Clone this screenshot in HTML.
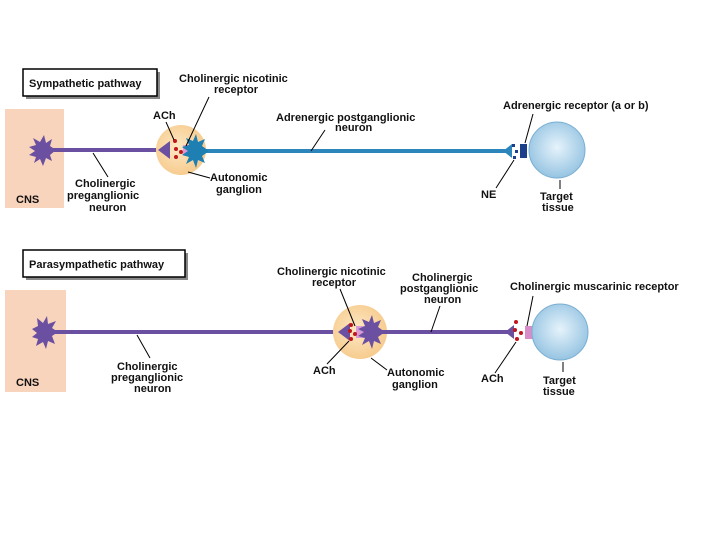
<!DOCTYPE html>
<html><head><style>
body{margin:0;background:#fff;}
svg text{font-family:"Liberation Sans",sans-serif;font-weight:bold;font-size:11px;fill:#111;}
</style></head><body>
<svg width="720" height="540" viewBox="0 0 720 540" xmlns="http://www.w3.org/2000/svg">
<defs>
<radialGradient id="gg" cx="0.45" cy="0.45" r="0.6"><stop offset="0" stop-color="#fde8c4"/><stop offset="1" stop-color="#f6c98a"/></radialGradient>
<radialGradient id="tg" cx="0.5" cy="0.45" r="0.6"><stop offset="0" stop-color="#e6f3fb"/><stop offset="1" stop-color="#8fc0e0"/></radialGradient>
</defs>
<!-- Sympathetic -->
<rect x="26" y="72" width="134" height="27" fill="#888"/>
<rect x="23" y="69" width="134" height="27" fill="#fff" stroke="#000" stroke-width="1.5"/>
<text x="29" y="87">Sympathetic pathway</text>
<rect x="5" y="109" width="59" height="99" fill="#f9d4bd"/>
<text x="16" y="203">CNS</text>
<line x1="45" y1="150" x2="162" y2="150" stroke="#6b4fa0" stroke-width="4"/>
<polygon points="56,150 50,146 52,139 46,143 44,135 40,142 33,138 36,145 29,147 35,151 29,155 36,157 34,163 40,159 43,166 46,158 52,161 50,155" fill="#6b4fa0"/>
<circle cx="181" cy="150" r="25" fill="url(#gg)"/>
<polygon points="158,150 170,141 170,159" fill="#6b4fa0"/>
<path d="M183,145 h6 v10 h-6 z" fill="#d99ad6"/>
<line x1="200" y1="151" x2="506" y2="151" stroke="#2c86bb" stroke-width="4"/>
<polygon points="209,151 202,146 205,139 198,142 196,134 193,141 186,138 189,145 182,147 188,151 182,155 189,157 186,164 193,160 196,168 198,160 205,163 202,156" fill="#1e7fb3"/>
<circle cx="175" cy="141" r="2" fill="#c0151b"/><circle cx="176" cy="149" r="2" fill="#c0151b"/><circle cx="181" cy="152" r="2" fill="#c0151b"/><circle cx="176" cy="157" r="2" fill="#c0151b"/>
<polygon points="503,151 512,144 512,158" fill="#2c86bb"/>
<rect x="512" y="144" width="3" height="3" fill="#1b3f8a"/><rect x="515" y="150" width="3" height="3" fill="#1b3f8a"/><rect x="513" y="156" width="3" height="3" fill="#1b3f8a"/>
<rect x="520" y="144" width="7" height="14" fill="#1b3f8a"/>
<circle cx="557" cy="150" r="28" fill="url(#tg)" stroke="#7aaed2"/>
<text x="179" y="82">Cholinergic nicotinic</text>
<text x="214" y="93">receptor</text>
<line x1="209" y1="97" x2="186" y2="146" stroke="#000"/>
<text x="153" y="119">ACh</text>
<line x1="166" y1="122" x2="174" y2="140" stroke="#000"/>
<text x="276" y="121">Adrenergic postganglionic</text>
<text x="335" y="131">neuron</text>
<line x1="325" y1="130" x2="311" y2="151" stroke="#000"/>
<text x="210" y="181">Autonomic</text>
<text x="216" y="193">ganglion</text>
<line x1="188" y1="172" x2="210" y2="178" stroke="#000"/>
<text x="75" y="187">Cholinergic</text>
<text x="67" y="199">preganglionic</text>
<text x="89" y="211">neuron</text>
<line x1="93" y1="153" x2="108" y2="177" stroke="#000"/>
<text x="503" y="109">Adrenergic receptor (a or b)</text>
<line x1="533" y1="114" x2="525" y2="143" stroke="#000"/>
<text x="481" y="198">NE</text>
<line x1="496" y1="188" x2="514" y2="160" stroke="#000"/>
<line x1="560" y1="180" x2="560" y2="189" stroke="#000"/>
<text x="540" y="200">Target</text>
<text x="542" y="211">tissue</text>
<!-- Parasympathetic -->
<rect x="26" y="253" width="162" height="27" fill="#888"/>
<rect x="23" y="250" width="162" height="27" fill="#fff" stroke="#000" stroke-width="1.5"/>
<text x="29" y="268">Parasympathetic pathway</text>
<rect x="5" y="290" width="61" height="102" fill="#f9d4bd"/>
<text x="16" y="386">CNS</text>
<line x1="50" y1="332" x2="340" y2="332" stroke="#6b4fa0" stroke-width="4"/>
<polygon points="58,332 52,328 56,321 48,324 47,316 43,323 37,318 38,326 32,329 37,333 32,337 38,339 36,346 43,342 46,349 48,341 55,344 52,336" fill="#6b4fa0"/>
<circle cx="360" cy="332" r="27" fill="url(#gg)"/>
<polygon points="338,332 350,323 350,341" fill="#6b4fa0"/>
<path d="M356,326 h8 v12 h-8 z" fill="#d99ad6"/>
<line x1="372" y1="332" x2="508" y2="332" stroke="#6b4fa0" stroke-width="4"/>
<polygon points="385,332 378,327 381,320 374,323 372,315 369,322 362,319 365,326 358,329 364,332 358,336 365,338 362,345 369,341 372,349 374,341 381,344 378,337" fill="#6b4fa0"/>
<circle cx="351" cy="325" r="2" fill="#c0151b"/><circle cx="350" cy="331" r="2" fill="#c0151b"/><circle cx="355" cy="334" r="2" fill="#c0151b"/><circle cx="351" cy="339" r="2" fill="#c0151b"/>
<polygon points="505,332 514,325 514,339" fill="#6b4fa0"/>
<circle cx="516" cy="322" r="2" fill="#c0151b"/><circle cx="515" cy="330" r="2" fill="#c0151b"/><circle cx="521" cy="333" r="2" fill="#c0151b"/><circle cx="517" cy="339" r="2" fill="#c0151b"/>
<rect x="525" y="326" width="8" height="13" fill="#d98cc8"/>
<circle cx="560" cy="332" r="28" fill="url(#tg)" stroke="#7aaed2"/>
<text x="277" y="275">Cholinergic nicotinic</text>
<text x="312" y="286">receptor</text>
<line x1="340" y1="289" x2="355" y2="326" stroke="#000"/>
<text x="412" y="281">Cholinergic</text>
<text x="400" y="292">postganglionic</text>
<text x="424" y="303">neuron</text>
<line x1="440" y1="306" x2="431" y2="332" stroke="#000"/>
<text x="510" y="290">Cholinergic muscarinic receptor</text>
<line x1="533" y1="296" x2="527" y2="326" stroke="#000"/>
<text x="313" y="374">ACh</text>
<line x1="327" y1="364" x2="349" y2="341" stroke="#000"/>
<text x="387" y="376">Autonomic</text>
<text x="392" y="388">ganglion</text>
<line x1="371" y1="358" x2="387" y2="370" stroke="#000"/>
<text x="481" y="382">ACh</text>
<line x1="495" y1="373" x2="516" y2="342" stroke="#000"/>
<line x1="563" y1="362" x2="563" y2="372" stroke="#000"/>
<text x="543" y="384">Target</text>
<text x="543" y="395">tissue</text>
<text x="117" y="370">Cholinergic</text>
<text x="111" y="381">preganglionic</text>
<text x="134" y="392">neuron</text>
<line x1="137" y1="335" x2="150" y2="358" stroke="#000"/>
</svg>
</body></html>
